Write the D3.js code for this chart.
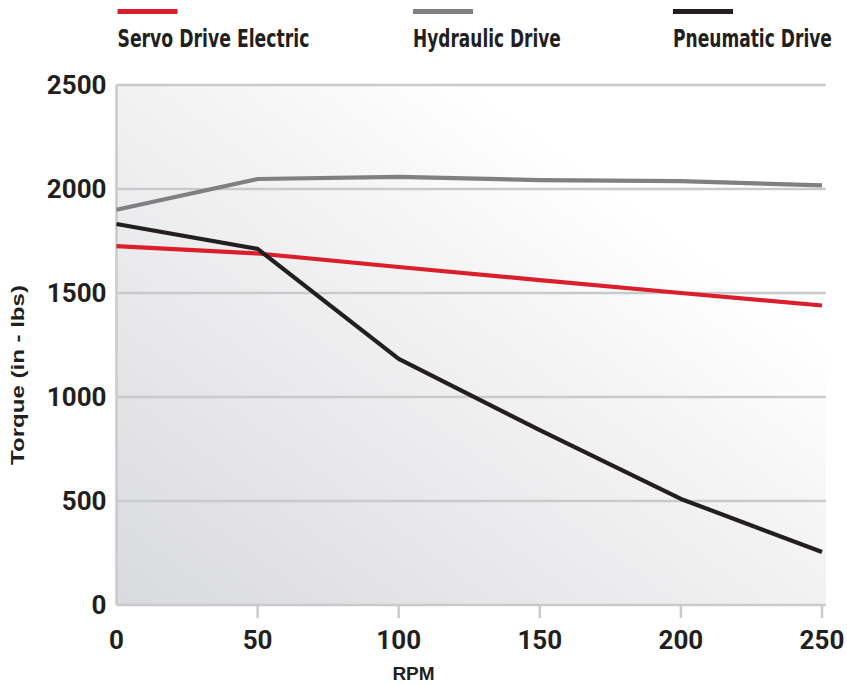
<!DOCTYPE html>
<html>
<head>
<meta charset="utf-8">
<script src="https://cdn.jsdelivr.net/npm/d3@7"></script>
<style>
  body { margin: 0; background: #fff; }
  svg text { fill: #231f20; font-weight: bold; }
  .tick-label { font-family: Roboto, "Liberation Sans", sans-serif; font-size: 26px; }
  .legend-label { font-family: "Liberation Sans Narrow", "DejaVu Sans Condensed", "Roboto", sans-serif; font-size: 25px; }
  .axis-title { font-family: "Liberation Sans", Arial, sans-serif; font-size: 18px; }
</style>
</head>
<body>
<div id="chart"></div>
<script>
const rpm = [0, 50, 100, 150, 200, 250];
const servoElectric = [1725, 1690, 1625, 1562, 1500, 1440];
const hydraulic = [1900, 2048, 2058, 2043, 2038, 2017];
const pneumatic = [1832, 1712, 1183, 841, 510, 255];
const yTicks = [0, 500, 1000, 1500, 2000, 2500];
const seriesNames = ['Servo Drive Electric', 'Hydraulic Drive', 'Pneumatic Drive'];
const seriesColors = ['#da1f2a', '#808083', '#231f20'];

const series = [servoElectric, hydraulic, pneumatic];

const width = 847;
const height = 685;
const margin = { top: 85, right: 25, bottom: 80, left: 116.5 };
const plotW = 705.5;
const plotH = 520;

const svg = d3.select('#chart').append('svg')
  .attr('width', width)
  .attr('height', height);

const defs = svg.append('defs');
const grad = defs.append('linearGradient')
  .attr('id', 'bg')
  .attr('x1', '0%').attr('y1', '100%')
  .attr('x2', '100%').attr('y2', '0%');
grad.append('stop').attr('offset', '0%').attr('stop-color', '#d9dadd');
grad.append('stop').attr('offset', '55%').attr('stop-color', '#f4f4f5');
grad.append('stop').attr('offset', '75%').attr('stop-color', '#ffffff');
grad.append('stop').attr('offset', '100%').attr('stop-color', '#ffffff');

const x = d3.scaleLinear().domain([0, 250]).range([0, plotW]);
const y = d3.scaleLinear().domain([0, 2500]).range([plotH, 0]);

const g = svg.append('g')
  .attr('transform', `translate(${margin.left}, ${margin.top})`);

// plot background
g.append('rect')
  .attr('x', 0)
  .attr('y', 0)
  .attr('width', plotW + 4)
  .attr('height', plotH)
  .attr('fill', 'url(#bg)');

// gridlines
g.selectAll('.grid')
  .data(yTicks)
  .enter().append('line')
  .attr('class', 'grid')
  .attr('x1', 0)
  .attr('x2', plotW + 4)
  .attr('y1', d => y(d))
  .attr('y2', d => y(d))
  .attr('stroke', '#c9cacc')
  .attr('stroke-width', 2.5);

// left axis line
g.append('line')
  .attr('x1', 0).attr('x2', 0)
  .attr('y1', 0).attr('y2', plotH)
  .attr('stroke', '#c9cacc')
  .attr('stroke-width', 2.5);

// x ticks
g.selectAll('.xtick')
  .data(rpm.slice(1))
  .enter().append('line')
  .attr('class', 'xtick')
  .attr('x1', d => x(d))
  .attr('x2', d => x(d))
  .attr('y1', plotH)
  .attr('y2', plotH + 13)
  .attr('stroke', '#c9cacc')
  .attr('stroke-width', 2.5);

// y labels
g.selectAll('.ylabel')
  .data(yTicks)
  .enter().append('text')
  .attr('class', 'tick-label')
  .attr('x', -10)
  .attr('y', d => y(d))
  .attr('dy', '0.36em')
  .attr('text-anchor', 'end')
  .text(d => d);

// x labels
g.selectAll('.xlabel')
  .data(rpm)
  .enter().append('text')
  .attr('class', 'tick-label')
  .attr('x', d => x(d))
  .attr('y', plotH + 44)
  .attr('text-anchor', 'middle')
  .text(d => d);

// axis titles
svg.append('text')
  .attr('class', 'axis-title')
  .attr('x', 413.5)
  .attr('y', 680)
  .attr('text-anchor', 'middle')
  .style('font-size', '19px')
  .text('RPM');

const yTitle = svg.append('text')
  .attr('class', 'axis-title')
  .attr('text-anchor', 'middle')
  .text('Torque (in - lbs)');
const yTitleW = yTitle.node().getComputedTextLength();
yTitle.attr('transform', `translate(24, 375) rotate(-90) scale(${180 / yTitleW}, 1)`);

// lines
const line = d3.line()
  .x((d, i) => x(rpm[i]))
  .y(d => y(d));

series.forEach((s, i) => {
  g.append('path')
    .datum(s)
    .attr('fill', 'none')
    .attr('stroke', seriesColors[i])
    .attr('stroke-width', 4.2)
    .attr('stroke-linejoin', 'round')
    .attr('d', line);
});

// legend
const legendX = [117.5, 413, 673];
const legendW = [192, 148, 159];
const legend = svg.selectAll('.legend')
  .data(seriesNames)
  .enter().append('g')
  .attr('class', 'legend')
  .attr('transform', (d, i) => `translate(${legendX[i]}, 0)`);

legend.append('rect')
  .attr('x', 0)
  .attr('y', 9)
  .attr('width', 60)
  .attr('height', 5)
  .attr('fill', (d, i) => seriesColors[i]);

// squeeze the labels horizontally to the condensed width of the original
legend.append('text')
  .attr('class', 'legend-label')
  .attr('x', 0)
  .attr('y', 0)
  .text(d => d)
  .each(function (d, i) {
    const w = this.getComputedTextLength();
    d3.select(this).attr('transform', `translate(0, 47) scale(${legendW[i] / w}, 1)`);
  });
</script>
</body>
</html>
